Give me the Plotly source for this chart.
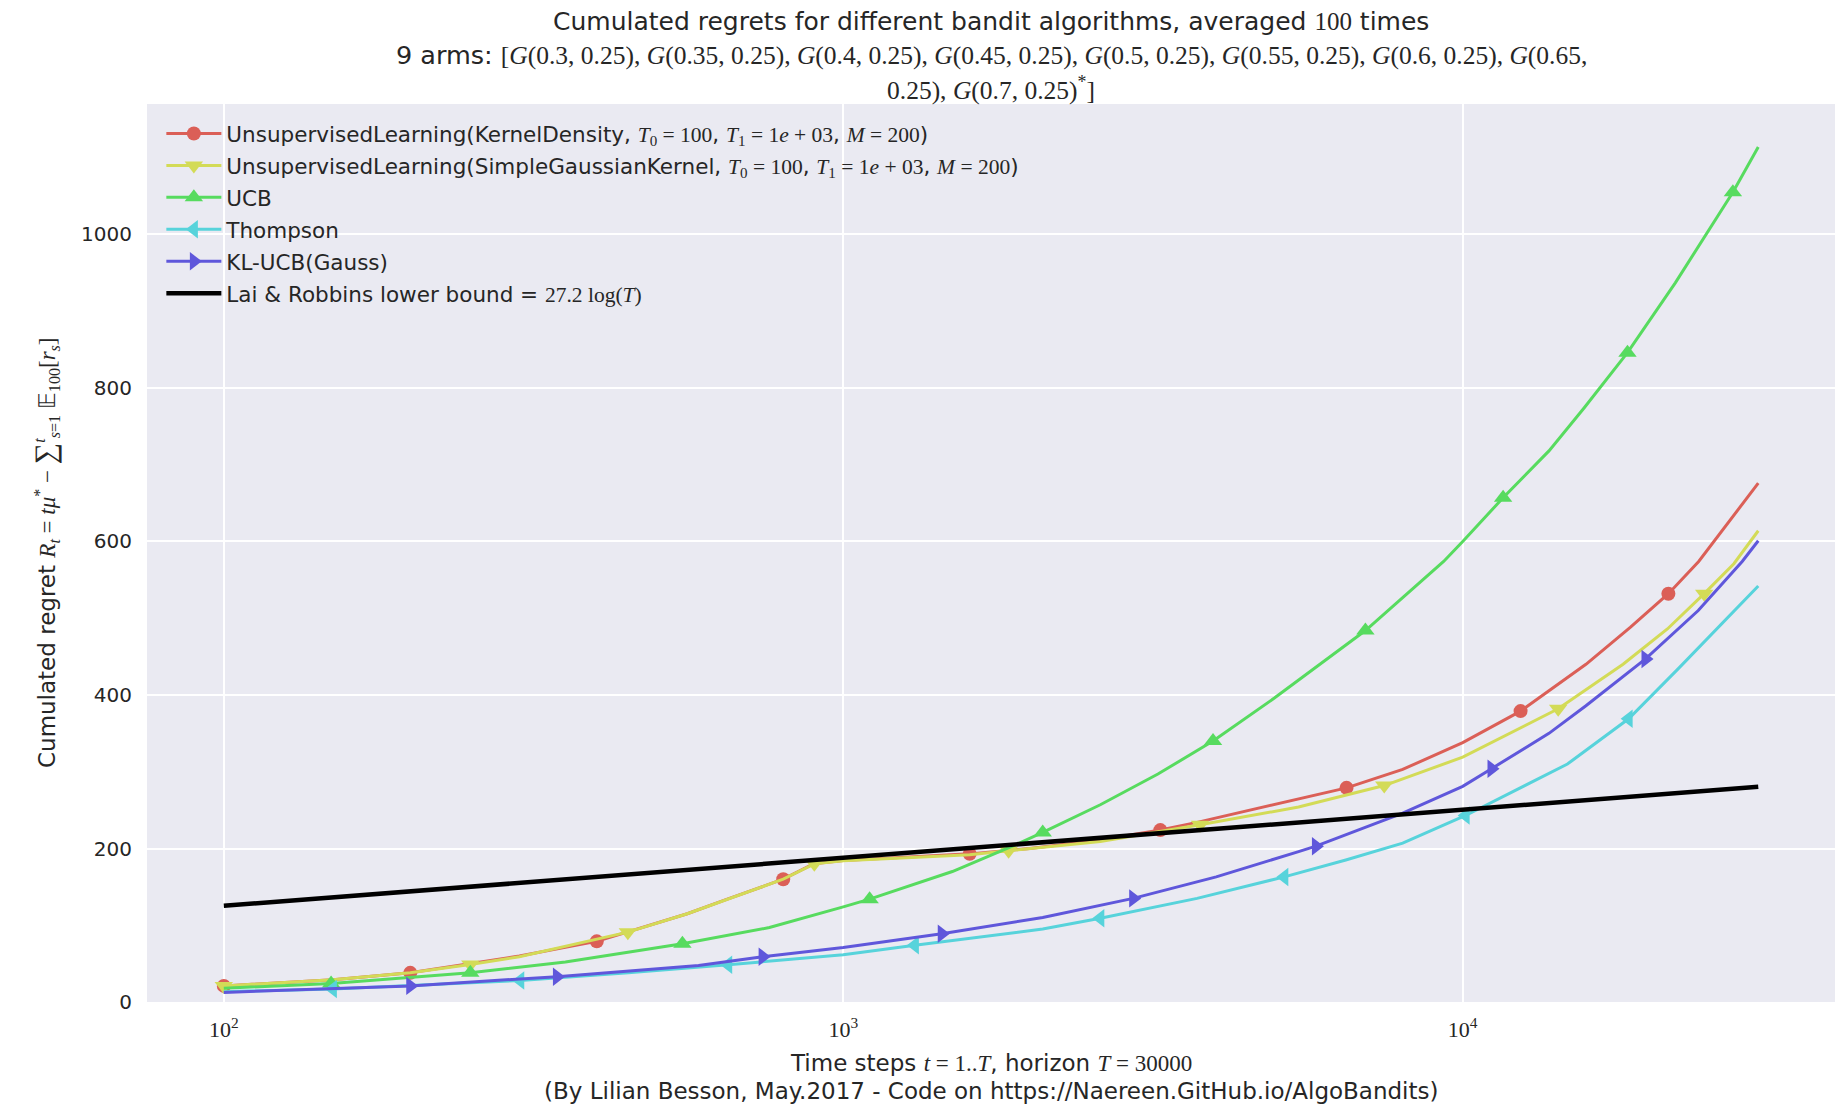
import plotly.graph_objects as go

# ---------------- data ----------------
arm_means = [0.3, 0.35, 0.4, 0.45, 0.5, 0.55, 0.6, 0.65, 0.7]
arm_var = 0.25
horizon = 30000
repetitions = 100
lb_coef = 27.2

red_t = [100, 150, 200, 300, 400, 560, 650, 800, 895, 1000, 1600, 2000, 2600, 3250, 3725, 5433, 6493, 8000, 10000, 12400, 15810, 18640, 21480, 24040, 30000]
red_v = [21, 29, 38, 60, 79, 115, 134, 160, 180, 184.5, 193, 200, 211, 224, 234, 264, 279, 303, 338, 379, 440, 488, 532, 574, 676]
red_mk = [100, 200, 400, 800, 1600, 3250, 6493, 12400, 21480]

yel_t = [100, 150, 200, 250, 300, 449, 560, 650, 800, 898, 1000, 1600, 1849, 2600, 3767, 5433, 7470, 10000, 14260, 18150, 21400, 24540, 27400, 30000]
yel_v = [21, 29, 38, 49, 59, 91, 115, 134, 160, 180, 184, 192, 197, 209, 231, 254, 282, 319, 382, 440, 486, 532, 571, 614]
yel_mk = [100, 250, 449, 898, 1849, 3767, 7470, 14260, 24540]

grn_t = [100, 149, 250, 356, 550, 760, 1000, 1103, 1500, 1875, 2099, 2600, 3221, 3953, 4966, 6965, 9315, 10000, 11620, 13780, 15700, 18450, 22040, 24700, 27300, 30000]
grn_v = [18, 24, 38, 52, 76, 97, 124, 134, 170, 203, 221, 257, 297, 340, 396, 484, 574, 600, 657, 718, 774, 846, 937, 1000, 1055, 1114]
grn_mk = [149, 250, 550, 1103, 2099, 3953, 6965, 11620, 18450, 27300]

cyn_t = [100, 150, 301, 450, 652, 1000, 1305, 2099, 2600, 3725, 5152, 6476, 8000, 10110, 14760, 18530, 22330, 25590, 30000]
cyn_v = [13.5, 17, 28, 38, 48.5, 61.5, 74, 95, 109, 135, 163, 185, 207, 243, 310, 369, 435, 484, 542]
cyn_mk = [150, 301, 652, 1305, 2600, 5152, 10110, 18530]

blu_t = [100, 200, 345, 584, 741, 1000, 1442, 2099, 2938, 4000, 5433, 5795, 8000, 10000, 11130, 13780, 15810, 19730, 24000, 28260, 30000]
blu_v = [12.5, 21, 33, 47.5, 59, 71, 89, 110, 135, 163, 196, 203, 246, 281, 304, 350, 386, 447, 510, 574, 601]
blu_mk = [200, 345, 741, 1442, 2938, 5795, 11130, 19730]

lb_t = [100, 30000]
lb_v = [125.3, 280.4]

x_ticks = [100, 1000, 10000]
x_ticktext = ["10<sup>2</sup>", "10<sup>3</sup>", "10<sup>4</sup>"]
y_ticks = [0, 200, 400, 600, 800, 1000]

# ---------------- styling ----------------
SERIF = "Liberation Serif"
SANS = "DejaVu Sans"
TXT = "#262626"


def m(s):
    return "<span style='font-family:%s'>%s</span>" % (SERIF, s)


param_txt = (m("<i>T</i><sub>0</sub> = 100") + ", " + m("<i>T</i><sub>1</sub> = 1<i>e</i> + 03")
             + ", " + m("<i>M</i> = 200") + ")")

series = [
    ("UnsupervisedLearning(KernelDensity, " + param_txt, red_t, red_v, red_mk, "#db5f57", "circle", 14),
    ("UnsupervisedLearning(SimpleGaussianKernel, " + param_txt, yel_t, yel_v, yel_mk, "#d3db57", "triangle-down", 16),
    ("UCB", grn_t, grn_v, grn_mk, "#57db5f", "triangle-up", 16),
    ("Thompson", cyn_t, cyn_v, cyn_mk, "#57d3db", "triangle-left", 16),
    ("KL-UCB(Gauss)", blu_t, blu_v, blu_mk, "#5f57db", "triangle-right", 16),
]

fig = go.Figure()
for i, (name, t, v, mk, col, sym, size) in enumerate(series):
    lookup = dict(zip(t, v))
    fig.add_trace(go.Scatter(x=t, y=v, mode="lines", line=dict(color=col, width=3),
                             showlegend=False, hoverinfo="skip", legendgroup=str(i)))
    fig.add_trace(go.Scatter(x=mk, y=[lookup[k] for k in mk], mode="markers",
                             marker=dict(color=col, symbol=sym, size=size, line=dict(width=0)),
                             showlegend=False, legendgroup=str(i)))
    fig.add_trace(go.Scatter(x=[None], y=[None], mode="lines+markers", name=name,
                             line=dict(color=col, width=3),
                             marker=dict(color=col, symbol=sym, size=size, line=dict(width=0)),
                             legendgroup=str(i)))

fig.add_trace(go.Scatter(x=lb_t, y=lb_v, mode="lines", line=dict(color="black", width=4.5),
                         name="Lai & Robbins lower bound = " + m("%.1f log(<i>T</i>)" % lb_coef),
                         legendgroup="lb"))

# ---------------- titles as annotations ----------------
arms_list = ["<i>G</i>(%g, %g)" % (mu, arm_var) for mu in arm_means]
line2 = "9 arms: " + m("[" + ", ".join(arms_list[:7]) + ", <i>G</i>(%g," % arm_means[7])
line3 = m("%g), " % arm_var + arms_list[8] + "<sup>*</sup>]")
line1 = "Cumulated regrets for different bandit algorithms, averaged " + m(str(repetitions)) + " times"

W, H = 1847, 1114
L, R, T, B = 147, 12, 104, 112
pw, ph = W - L - R, H - T - B


def px_x(x):
    return (x - L) / pw


def px_y(y):
    return (H - B - y) / ph


annots = [
    dict(text=line1, x=0.5, y=px_y(21), font=dict(size=25)),
    dict(text=line2, x=0.5, y=px_y(55), font=dict(size=25.5)),
    dict(text=line3, x=0.5, y=px_y(88), font=dict(size=25.5)),
    dict(text="Time steps " + m("<i>t</i> = 1..<i>T</i>") + ", horizon " + m("<i>T</i> = %d" % horizon),
         x=0.5, y=px_y(1063), font=dict(size=23)),
    dict(text="(By Lilian Besson, May.2017 - Code on https://Naereen.GitHub.io/AlgoBandits)",
         x=0.5, y=px_y(1091), font=dict(size=23)),
    dict(text="Cumulated regret " + m("<i>R<sub>t</sub></i> = <i>tμ</i><sup>*</sup> − <span style='font-size:30px'>∑</span><sup><i>t</i></sup><sub><i>s</i>=1</sub> 𝔼<sub>100</sub>[<i>r<sub>s</sub></i>]"),
         x=px_x(45), y=0.5, textangle=-90, font=dict(size=23)),
]
for a in annots:
    a.update(xref="paper", yref="paper", showarrow=False, xanchor="center", yanchor="middle")
    a["font"].update(family=SANS, color=TXT)

fig.update_layout(
    width=W, height=H,
    margin=dict(l=L, r=R, t=T, b=B),
    paper_bgcolor="white",
    plot_bgcolor="#EAEAF2",
    font=dict(family=SANS, size=20, color=TXT),
    annotations=annots,
    showlegend=True,
    legend=dict(x=0.0085, y=0.99, xanchor="left", yanchor="top", bgcolor="rgba(0,0,0,0)",
                font=dict(size=21.5, color=TXT), itemwidth=55, tracegroupgap=1,
                traceorder="grouped"),
    xaxis=dict(type="log", range=[1.876, 4.601], tickvals=x_ticks, ticktext=x_ticktext,
               tickfont=dict(family=SERIF, size=22, color=TXT),
               showgrid=True, gridcolor="white", gridwidth=1.8, zeroline=False,
               showline=False, ticks="", ticklabelstandoff=12),
    yaxis=dict(range=[0, 1170], tickvals=y_ticks, tickfont=dict(size=20, color=TXT),
               showgrid=True, gridcolor="white", gridwidth=1.8, zeroline=False,
               showline=False, ticks="", ticklabelstandoff=14),
)

fig.write_html("out.html")
